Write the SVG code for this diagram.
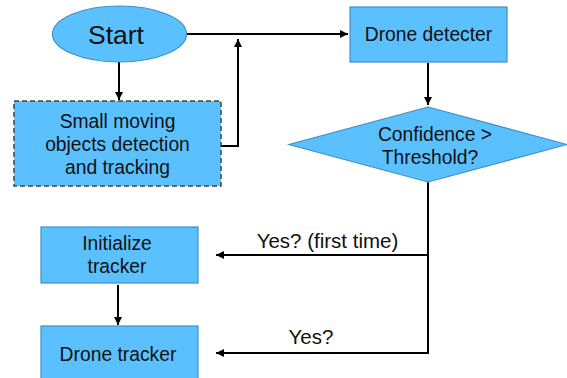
<svg xmlns="http://www.w3.org/2000/svg" width="567" height="378" viewBox="0 0 567 378">
<defs>
<marker id="ah" viewBox="0 0 10 10" refX="10" refY="5" markerWidth="9" markerHeight="8" markerUnits="userSpaceOnUse" orient="auto">
<path d="M0,0 L10,5 L0,10 Z" fill="#000"/>
</marker>
<style>
.n{fill:#5bc0fe;stroke:#3f8fc9;stroke-width:1.2}
.d{fill:#5bc0fe;stroke:#444;stroke-width:1.5;stroke-dasharray:5 3}
.t{font-family:"Liberation Sans",Arial,sans-serif;font-size:19.3px;fill:#111;text-anchor:middle}
.l{font-size:20.5px}
.c{fill:none;stroke:#000;stroke-width:2;marker-end:url(#ah)}
.cl{fill:none;stroke:#000;stroke-width:2}
</style>
</defs>
<rect width="567" height="378" fill="#fff"/>
<g id="connectors">
<path class="c" d="M119,62 V100"/>
<path class="c" d="M187,34 H348"/>
<path class="c" d="M221,146 H238 V39"/>
<path class="c" d="M428,63 V105"/>
<path class="cl" d="M428,182 V353"/>
<path class="c" d="M429,255 H216"/>
<path class="c" d="M429,353 H216"/>
<path class="c" d="M118,285 V325"/>
<text class="t l" x="327.5" y="248">Yes? (first time)</text>
<text class="t l" x="311" y="344">Yes?</text>
</g>
<g id="start">
<ellipse class="n" cx="119.5" cy="34" rx="67" ry="28"/>
<text class="t" x="116" y="44" style="font-size:26.5px">Start</text>
</g>
<g id="small">
<rect class="d" x="14" y="101" width="207" height="85"/>
<text class="t" x="117.5" y="128">Small moving</text>
<text class="t" x="117.5" y="151">objects detection</text>
<text class="t" x="117.5" y="174">and tracking</text>
</g>
<g id="detecter">
<rect class="n" x="350" y="7" width="157" height="55"/>
<text class="t" x="428.5" y="41">Drone detecter</text>
</g>
<g id="decision">
<polygon class="n" points="428,107 567,144.5 428,182 289,144.5"/>
<text class="t" x="435" y="141">Confidence &gt;</text>
<text class="t" x="430" y="164">Threshold?</text>
</g>
<g id="init">
<rect class="n" x="41" y="227" width="157" height="56"/>
<text class="t" x="117" y="250">Initialize</text>
<text class="t" x="117" y="273">tracker</text>
</g>
<g id="tracker">
<rect class="n" x="41" y="326" width="157" height="60"/>
<text class="t" x="118" y="361">Drone tracker</text>
</g>
</svg>
